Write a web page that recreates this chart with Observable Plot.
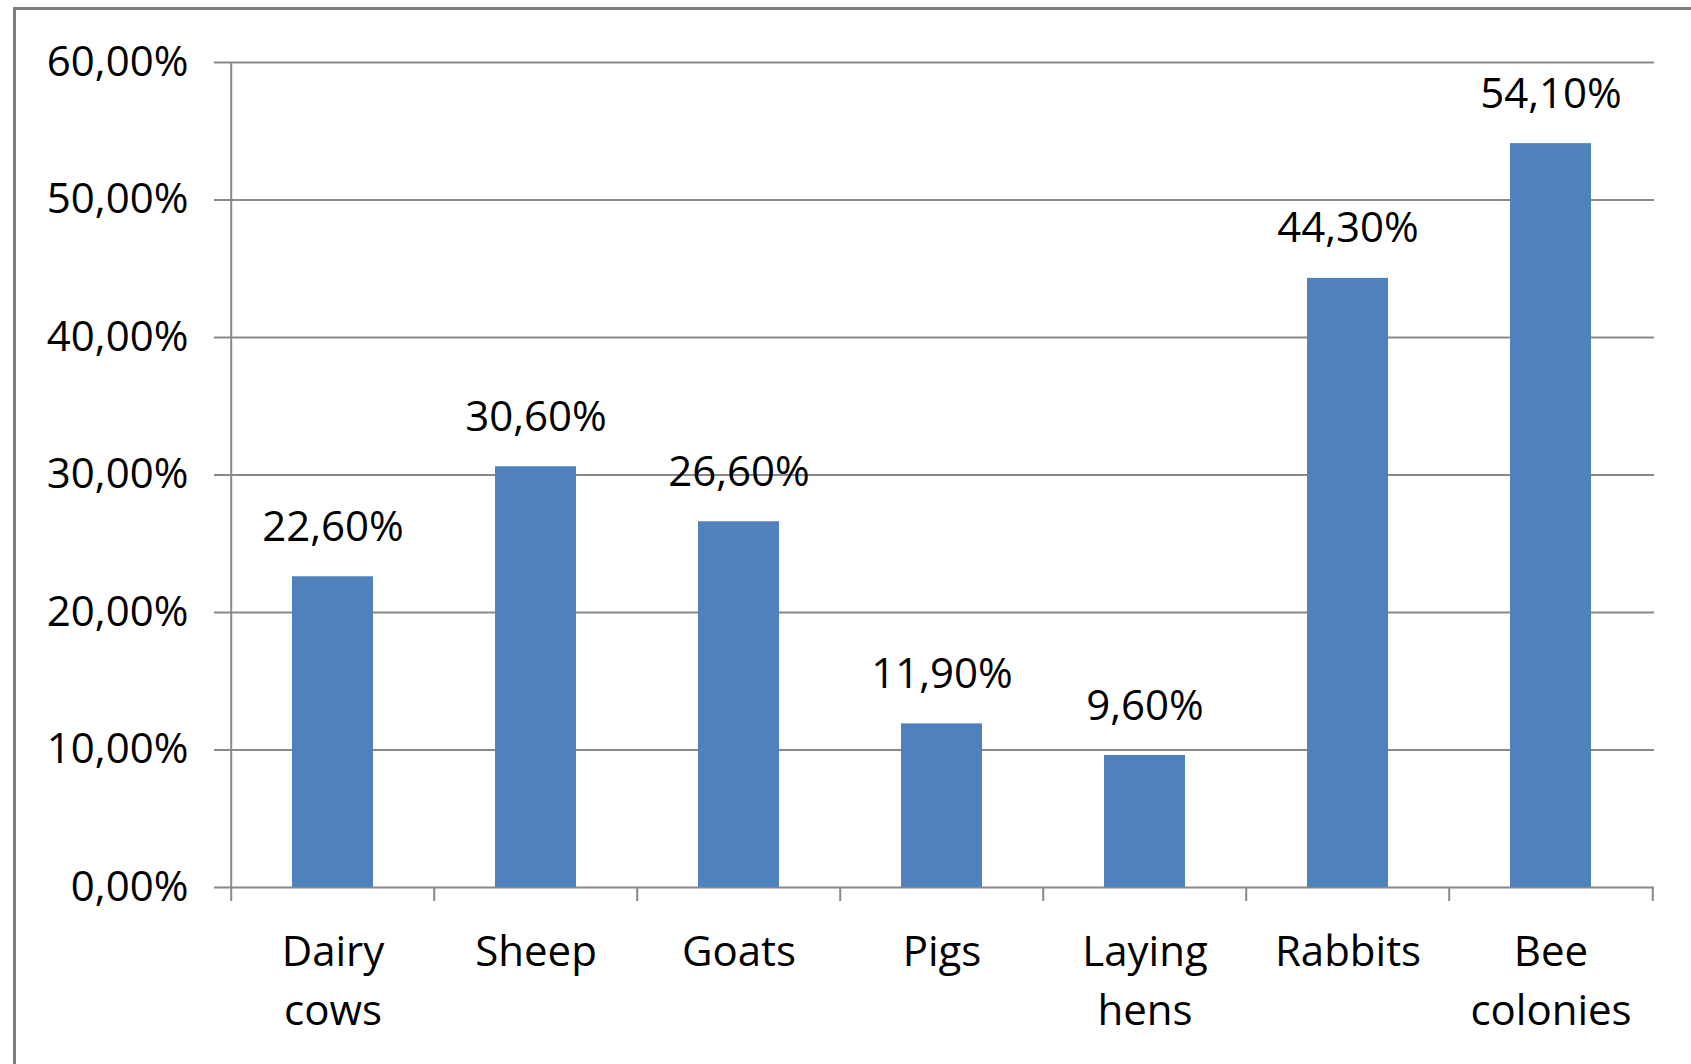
<!DOCTYPE html>
<html><head><meta charset="utf-8">
<script src="https://cdn.jsdelivr.net/npm/d3@7"></script>
<script src="https://cdn.jsdelivr.net/npm/@observablehq/plot@0.6"></script>
<style>
html,body{margin:0;padding:0;background:#fff;overflow:hidden;}
#frame{position:absolute;left:13px;top:7px;width:2000px;height:2000px;border:3px solid #7f7f7f;box-sizing:border-box;}
#chart{position:absolute;left:0;top:0;}
</style></head><body>
<div id="frame"></div><div id="chart"></div>
<script>
const categories = ["Dairy cows","Sheep","Goats","Pigs","Laying hens","Rabbits","Bee colonies"];
const labels = ["Dairy\ncows","Sheep","Goats","Pigs","Laying\nhens","Rabbits","Bee\ncolonies"];
const values = [22.6,30.6,26.6,11.9,9.6,44.3,54.1];
const yTicks = [0,10,20,30,40,50,60];

const data = categories.map((c,i)=>({category:c, label:labels[i], value:values[i]}));
const fmt = d => d.toFixed(2).replace(".", ",") + "%";

const W = 1691, H = 1064, mL = 229, mR = 37, mT = 62, mB = 177;
const step = (W - mL - mR) / categories.length;
const grid = "#898989";
const font = "Open Sans";

const chart = Plot.plot({
  width: W, height: H,
  marginLeft: mL, marginRight: mR, marginTop: mT, marginBottom: mB,
  style: {fontFamily: font, background: "transparent", color: "#000"},
  x: {domain: categories, paddingInner: 0.6, paddingOuter: 0.3, axis: null},
  y: {domain: [0, 60], axis: null},
  marks: [
    Plot.ruleY(yTicks, {y: d=>d, stroke: grid, strokeWidth: 2}),
    Plot.axisY({ticks: yTicks, tickSize: 15, tickPadding: 26, tickFormat: fmt,
      fontSize: 42, stroke: grid, strokeWidth: 2, fill: "#000", label: null}),
    Plot.barY(data, {x: "category", y: "value", fill: "#4F81BD"}),
    Plot.ruleX([categories[0]], {x: d=>d, dx: -step/2, y1: 0, y2: 60, stroke: grid, strokeWidth: 2}),
    Plot.ruleX(categories, {x: d=>d, dx: -step/2, y1: 0, y2: 0, insetBottom: -14, stroke: grid, strokeWidth: 2}),
    Plot.ruleX([categories[categories.length-1]], {x: d=>d, dx: step/2, y1: 0, y2: 0, insetBottom: -14, stroke: grid, strokeWidth: 2}),
    Plot.text(data, {x: "category", y: "value", text: d=>fmt(d.value), lineAnchor: "bottom", dy: -36, fontSize: 42, fill: "#000"}),
    Plot.text(data, {x: "category", y: 0, text: "label", lineAnchor: "top", dy: 37, lineHeight: 1.4, fontSize: 42, fill: "#000"})
  ]
});
document.getElementById("chart").appendChild(chart);
</script>
</body></html>
